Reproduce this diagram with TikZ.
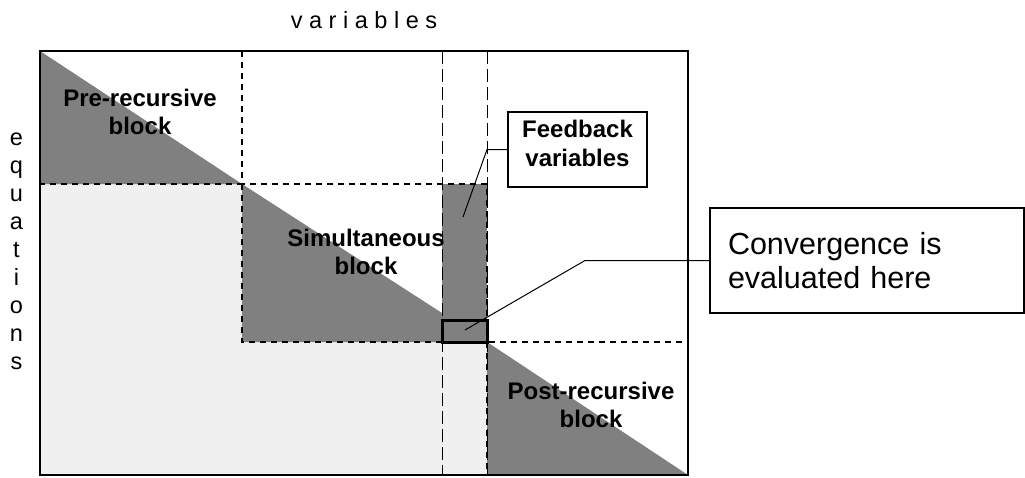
\documentclass[tikz,border=0pt]{standalone}
\usepackage{fontspec}
\setmainfont{Liberation Sans}
\definecolor{darkfill}{HTML}{808080}
\definecolor{lightfill}{HTML}{F0F0F0}
\begin{document}
\begin{tikzpicture}[x=1pt,y=-1pt,
  blockline/.style={line width=2.6pt,dash pattern=on 6pt off 5pt},
  colline/.style={line width=1pt,dash pattern=on 13pt off 5pt},
  matline/.style={line width=1.2pt},
  blocklabel/.style={font=\fontsize{24}{27.5}\selectfont\bfseries,align=center,inner sep=0pt},
  axislabel/.style={font=\fontsize{23.5}{28}\selectfont,align=center,inner sep=0pt},
  callout/.style={draw,line width=1.2pt,fill=white},
  leader/.style={line width=1pt}]
\useasboundingbox (0,0) rectangle (1025,477);
% fills
\fill[lightfill] (40,184) -- (242,184) -- (242,342) -- (487,342) -- (487,475) -- (40,475) -- cycle;
\fill[darkfill] (40,51) -- (242,184) -- (40,184) -- cycle;
\fill[darkfill] (242,184) -- (442,313) -- (442,342) -- (242,342) -- cycle;
\fill[darkfill] (442,184) rectangle (487,342);
\fill[darkfill] (487,342) -- (688,475) -- (487,475) -- cycle;
% matrix outline
\draw[matline] (40,51) rectangle (688,475);
% feedback columns
\draw[colline] (442,51) -- (442,475);
\draw[colline] (487,51) -- (487,475);
% block boxes
\draw[blockline] (40,51) rectangle (242,184);
\draw[blockline] (242,184) rectangle (487,342);
\draw[blockline] (487,342) rectangle (688,475);
% convergence cell
\draw[line width=3pt] (442,320) rectangle (487,342);
% labels
\node[axislabel,anchor=base] (vars) at (364,28.5) {v a r i a b l e s};
\node[axislabel] (eqs) at (16.5,251) {e\\q\\u\\a\\t\\i\\o\\n\\s};
\node[blocklabel] (pre) at (140,112) {Pre-recursive\\block};
\node[blocklabel] (sim) at (366,252) {Simultaneous\\block};
\node[blocklabel] (post) at (591,405) {Post-recursive\\block};
% callouts
\node[callout,minimum width=139pt,minimum height=75pt,inner sep=0pt,align=center,
      font=\fontsize{24}{29}\selectfont\bfseries] (fb) at (577.5,149.5) {Feedback\\variables\\[-17pt]};
\node[callout,text width=278pt,inner xsep=18pt,inner ysep=0pt,minimum height=105pt,align=left,
      font=\fontsize{30.5}{34}\selectfont] (conv) at (867,260.5) {Convergence is\\evaluated here};
\coordinate (fbtip) at (463,217);
\coordinate (fbbend) at (487,149.5);
\coordinate (cvtip) at (465,330);
\coordinate (cvbend) at (585,260.5);
\draw[leader] (fbtip) -- (fbbend) -- (fb.west);
\draw[leader] (cvtip) -- (cvbend) -- (conv.west);
\end{tikzpicture}
\end{document}
